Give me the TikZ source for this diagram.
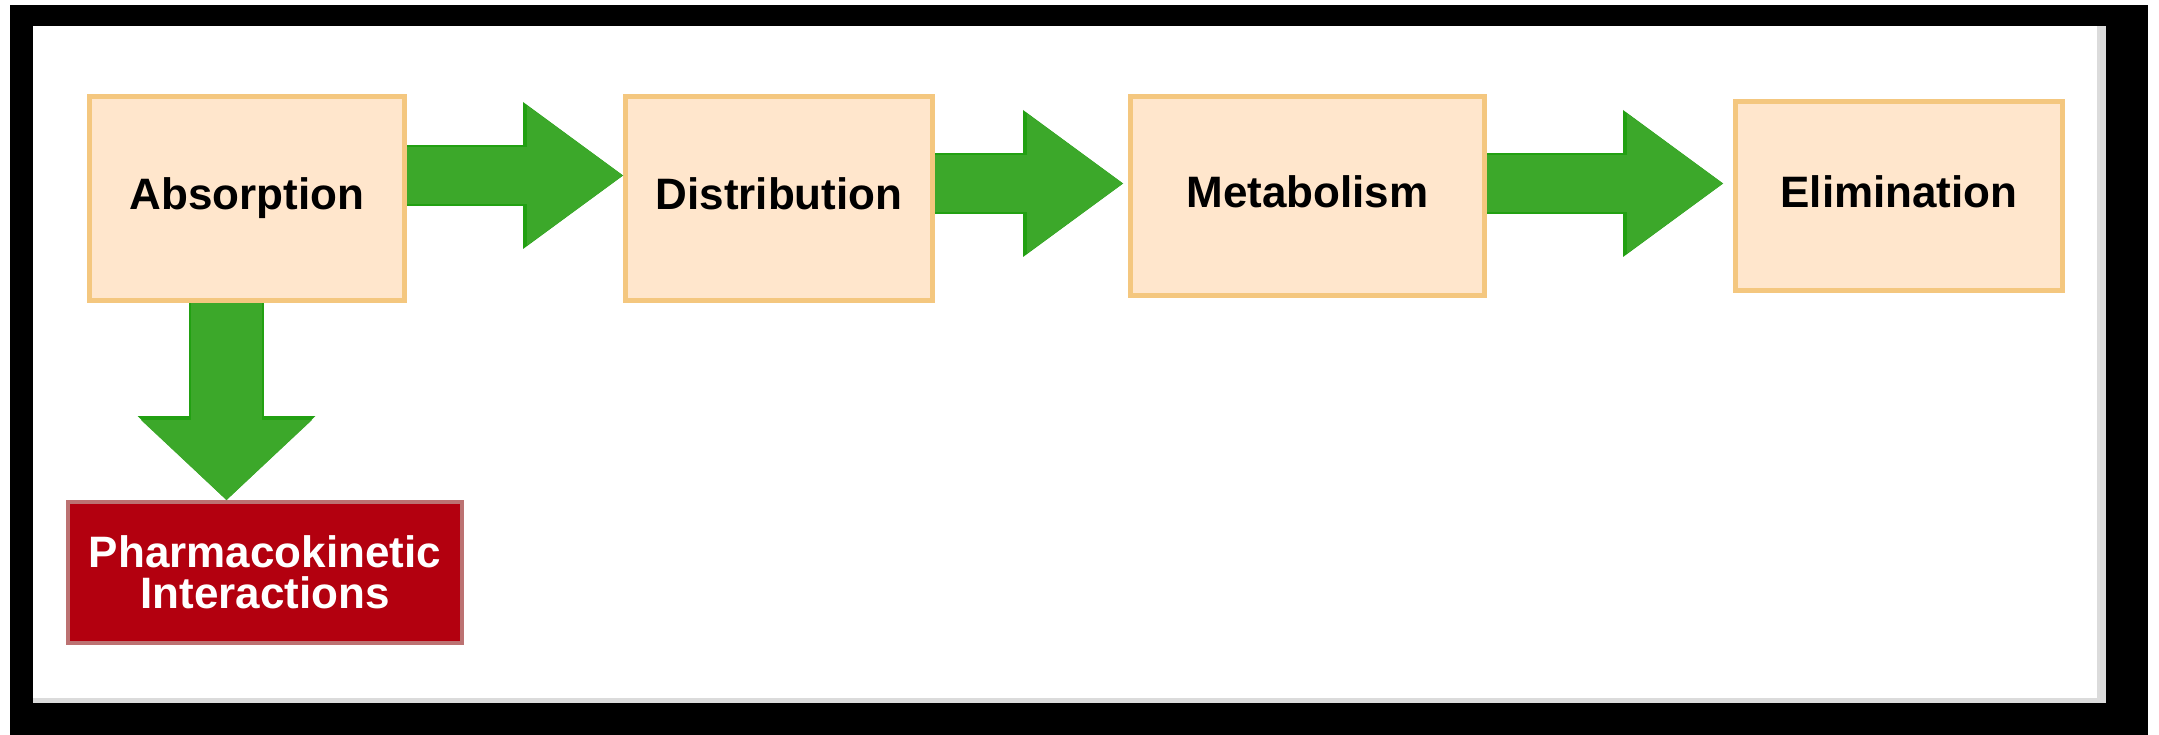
\documentclass[tikz,border=0pt]{standalone}
\usepackage{fontspec}
\setmainfont{Liberation Sans}
\usepackage{xcolor}
\usepackage{tikz}
\usetikzlibrary{arrows.meta}
\definecolor{boxfill}{HTML}{FFE6CC}
\definecolor{boxline}{HTML}{F4C77F}
\definecolor{flowfill}{HTML}{3CA82A}
\definecolor{flowline}{HTML}{22A012}
\definecolor{alertfill}{HTML}{B3000F}
\definecolor{alertline}{HTML}{BC7272}
\newcommand\labelfont{\fontsize{44pt}{41pt}\selectfont\bfseries}
\tikzstyle{stage}=[draw=boxline,fill=boxfill,line width=5pt,inner sep=0pt,text height=32pt,text depth=9pt,font=\labelfont]
\tikzstyle{alert}=[draw=alertline,fill=alertfill,line width=4pt,inner sep=0pt,text=white,align=center,font=\labelfont]
\tikzstyle{flow}=[flowfill,line width=57pt,-{Triangle[length=96pt,width=140pt,line width=0pt]},
  preaction={draw=flowline,line width=61pt,-{Triangle[length=100pt,width=147pt,line width=0pt]}}]
\tikzstyle{flowdown}=[flowfill,line width=71pt,-{Triangle[length=80pt,width=171pt,line width=0pt]},
  preaction={draw=flowline,line width=75pt,-{Triangle[length=84pt,width=178pt,line width=0pt]}}]

\begin{document}
\begin{tikzpicture}[x=1pt,y=-1pt]
	\useasboundingbox (0,0) rectangle (2159,735);
	% frame
	\fill[black] (10,5) rectangle (2148,735);
	\fill[black!14] (33,26) rectangle (2106,703);
	\fill[white] (33,26) rectangle (2097,698);
	% stages
	\node[stage,minimum width=315pt,minimum height=204pt] (absorption)   at (247,198.5)  {Absorption};
	\node[stage,minimum width=307pt,minimum height=204pt] (distribution) at (779,198.5)  {Distribution};
	\node[stage,minimum width=354pt,minimum height=199pt] (metabolism)   at (1307.5,196) {Metabolism};
	\node[stage,minimum width=327pt,minimum height=189pt] (elimination)  at (1899,196)   {Elimination};
	\node[alert,minimum width=394pt,minimum height=141pt] (interactions) at (265,572.5)  {Pharmacokinetic\\Interactions};
	% arrows
	\draw[flow] ([yshift=23pt]absorption.east) -- ([yshift=23pt]absorption.east -| distribution.west);
	\draw[flow] ([yshift=15pt]distribution.east) -- ([yshift=15pt,xshift=-5pt]distribution.east -| metabolism.west);
	\draw[flow] ([yshift=12.5pt]metabolism.east) -- ([yshift=12.5pt,xshift=-10pt]metabolism.east -| elimination.west);
	\draw[flowdown] ([xshift=-20.5pt]absorption.south) -- ([xshift=-20.5pt]absorption.south |- interactions.north);
\end{tikzpicture}
\end{document}
